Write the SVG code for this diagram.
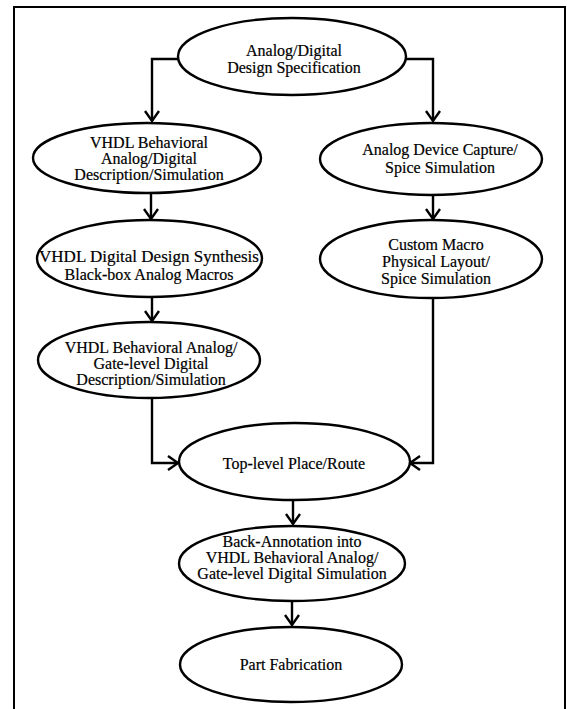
<svg xmlns="http://www.w3.org/2000/svg" width="567" height="709" viewBox="0 0 567 709">
<style>
  .n ellipse { fill: #fff; stroke: #000; stroke-width: 2.4; }
  .n text { font-family: "Liberation Serif", "Times New Roman", serif; font-size: 16px; text-anchor: middle; fill: #000; stroke: #000; stroke-width: 0.2; }
  .c path { fill: none; stroke: #000; stroke-width: 2.4; }
  .frame { fill: none; stroke: #000; stroke-width: 2; }
</style>
<defs>
  <marker id="arr" markerUnits="userSpaceOnUse" markerWidth="16" markerHeight="18" refX="11" refY="8" orient="auto" viewBox="0 0 16 16">
    <path d="M1,1 L11,8 L1,15" fill="none" stroke="#000" stroke-width="2.4"/>
  </marker>
</defs>
<rect width="567" height="709" fill="#fff"/>
<rect class="frame" x="14" y="7" width="551" height="720"/>
<g class="c" id="connectors">
  <path d="M178,59 H152 V121" marker-end="url(#arr)"/>
  <path d="M406,59 H433 V121" marker-end="url(#arr)"/>
  <path d="M151,193 V219" marker-end="url(#arr)"/>
  <path d="M433,195 V219" marker-end="url(#arr)"/>
  <path d="M152,297 V321" marker-end="url(#arr)"/>
  <path d="M152,398 V463 H178" marker-end="url(#arr)"/>
  <path d="M433,298 V463 H410" marker-end="url(#arr)"/>
  <path d="M293,500 V524" marker-end="url(#arr)"/>
  <path d="M292,601 V625" marker-end="url(#arr)"/>
</g>
<g class="n" id="spec">
  <ellipse cx="292" cy="56.5" rx="114" ry="38.5"/>
  <text x="294" y="56">Analog/Digital</text>
  <text x="294" y="73">Design Specification</text>
</g>
<g class="n" id="vhdl-behav">
  <ellipse cx="147" cy="158" rx="114" ry="35"/>
  <text x="149" y="148">VHDL Behavioral</text>
  <text x="149" y="164">Analog/Digital</text>
  <text x="149" y="180">Description/Simulation</text>
</g>
<g class="n" id="analog-capture">
  <ellipse cx="431" cy="159" rx="111" ry="36"/>
  <text x="440" y="155">Analog Device Capture/</text>
  <text x="440" y="173">Spice Simulation</text>
</g>
<g class="n" id="synthesis">
  <ellipse cx="149.5" cy="258.5" rx="112.5" ry="38.5"/>
  <text x="149" y="262" style="font-size:17px">VHDL Digital Design Synthesis</text>
  <text x="149" y="280">Black-box Analog Macros</text>
</g>
<g class="n" id="custom-macro">
  <ellipse cx="431" cy="259" rx="111" ry="39"/>
  <text x="436" y="250">Custom Macro</text>
  <text x="436" y="267">Physical Layout/</text>
  <text x="436" y="284">Spice Simulation</text>
</g>
<g class="n" id="gate-level">
  <ellipse cx="149" cy="360" rx="111" ry="38"/>
  <text x="151" y="353">VHDL Behavioral Analog/</text>
  <text x="151" y="369">Gate-level Digital</text>
  <text x="151" y="385">Description/Simulation</text>
</g>
<g class="n" id="place-route">
  <ellipse cx="294.5" cy="461.5" rx="115.5" ry="38.5"/>
  <text x="294" y="469">Top-level Place/Route</text>
</g>
<g class="n" id="back-annotation">
  <ellipse cx="292" cy="563.5" rx="113" ry="37.5"/>
  <text x="292" y="547">Back-Annotation into</text>
  <text x="292" y="563">VHDL Behavioral Analog/</text>
  <text x="292" y="579">Gate-level Digital Simulation</text>
</g>
<g class="n" id="fabrication">
  <ellipse cx="291" cy="664.5" rx="111" ry="37.5"/>
  <text x="291" y="670">Part Fabrication</text>
</g>
</svg>
